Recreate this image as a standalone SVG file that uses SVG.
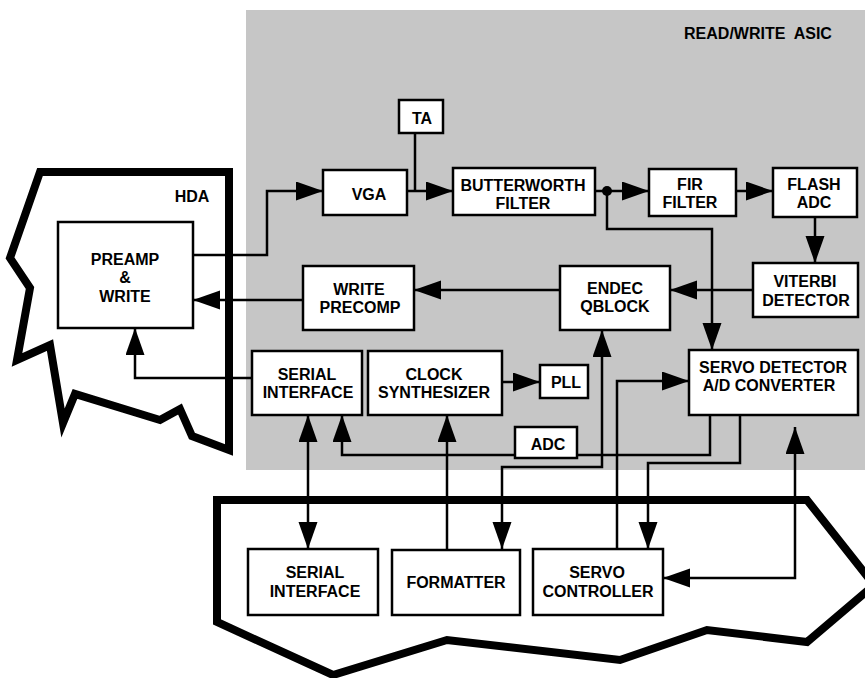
<svg xmlns="http://www.w3.org/2000/svg" width="865" height="678" viewBox="0 0 865 678">
<style>
.box{fill:#fff;stroke:#000;stroke-width:2.5}
.t{font-family:"Liberation Sans",Arial,sans-serif;font-weight:bold;font-size:16px;text-anchor:middle;fill:#000}
.c{fill:none;stroke:#000;stroke-width:2.5}
.outline{fill:#fff;stroke:#000;stroke-width:8;stroke-linejoin:miter}
</style>
<defs>
<marker id="ah" markerUnits="userSpaceOnUse" markerWidth="28" markerHeight="20" refX="27" refY="9.5" orient="auto-start-reverse">
<path d="M0,0 L27,9.5 L0,19 Z" fill="#000"/>
</marker>
</defs>
<rect width="865" height="678" fill="#fff"/>
<g id="asic">
<rect x="246" y="10" width="619" height="460" fill="#c6c6c6"/>
<text class="t" x="758" y="39">READ/WRITE&#160; ASIC</text>
</g>
<g id="hda">
<polygon class="outline" points="40,172 229,172 229,450 192,436 180,409 160,420 75,394 63,423 50,345 17,360 30,288 10,258"/>
<text class="t" x="192" y="202">HDA</text>
</g>
<g id="host">
<polygon class="outline" points="217,500 807,500 874,585 807,642 707,630 620,660 447,640 333,675 217,622"/>
</g>
<g id="connectors">
<path class="c" d="M193,255 H267 V191 H323" marker-end="url(#ah)"/>
<path class="c" d="M415,133 V191"/>
<path class="c" d="M407,191 H453" marker-end="url(#ah)"/>
<path class="c" d="M595,191 H649" marker-end="url(#ah)"/>
<path class="c" d="M736,191 H773" marker-end="url(#ah)"/>
<path class="c" d="M815,217 V263" marker-end="url(#ah)"/>
<path class="c" d="M607,191 V229 H712 V350" marker-end="url(#ah)"/>
<path class="c" d="M753,290 H670" marker-end="url(#ah)"/>
<path class="c" d="M560,290 H414" marker-end="url(#ah)"/>
<path class="c" d="M303,300 H193" marker-end="url(#ah)"/>
<path class="c" d="M252,378 H135 V328" marker-end="url(#ah)"/>
<path class="c" d="M308,415 V549" marker-start="url(#ah)" marker-end="url(#ah)"/>
<path class="c" d="M710,415 V455 H342 V415" marker-end="url(#ah)"/>
<path class="c" d="M602,330 V467 H502 V549" marker-start="url(#ah)" marker-end="url(#ah)"/>
<path class="c" d="M740,415 V463 H648 V549" marker-end="url(#ah)"/>
<path class="c" d="M617,549 V381 H689" marker-end="url(#ah)"/>
<path class="c" d="M447,550 V415" marker-end="url(#ah)"/>
<path class="c" d="M502,382 H540" marker-end="url(#ah)"/>
<path class="c" d="M795,427 V578 H663" marker-start="url(#ah)" marker-end="url(#ah)"/>
<circle cx="607" cy="191" r="5" fill="#000"/>
</g>
<g id="preamp">
<rect class="box" x="58" y="222" width="135" height="106"/>
<text class="t" x="125" y="265">PREAMP</text>
<text class="t" x="125" y="283">&amp;</text>
<text class="t" x="125" y="302">WRITE</text>
</g>
<g id="vga">
<rect class="box" x="323" y="170" width="84" height="45"/>
<text class="t" x="369" y="200">VGA</text>
</g>
<g id="ta">
<rect class="box" x="399" y="100" width="44" height="33"/>
<text class="t" x="422" y="124">TA</text>
</g>
<g id="butterworth">
<rect class="box" x="453" y="168" width="142" height="47"/>
<text class="t" x="523" y="191">BUTTERWORTH</text>
<text class="t" x="523" y="209">FILTER</text>
</g>
<g id="fir">
<rect class="box" x="649" y="169" width="87" height="47"/>
<text class="t" x="690" y="190">FIR</text>
<text class="t" x="690" y="208">FILTER</text>
</g>
<g id="flashadc">
<rect class="box" x="773" y="168" width="84" height="49"/>
<text class="t" x="814" y="190">FLASH</text>
<text class="t" x="814" y="208">ADC</text>
</g>
<g id="viterbi">
<rect class="box" x="753" y="263" width="105" height="54"/>
<text class="t" x="805" y="287">VITERBI</text>
<text class="t" x="806" y="306">DETECTOR</text>
</g>
<g id="endec">
<rect class="box" x="560" y="266" width="110" height="64"/>
<text class="t" x="615" y="294">ENDEC</text>
<text class="t" x="615" y="312">QBLOCK</text>
</g>
<g id="writeprecomp">
<rect class="box" x="303" y="266" width="111" height="64"/>
<text class="t" x="359" y="295">WRITE</text>
<text class="t" x="360" y="313">PRECOMP</text>
</g>
<g id="serialasic">
<rect class="box" x="252" y="351" width="110" height="64"/>
<text class="t" x="307" y="380">SERIAL</text>
<text class="t" x="308" y="398">INTERFACE</text>
</g>
<g id="clocksynth">
<rect class="box" x="368" y="351" width="134" height="64"/>
<text class="t" x="434" y="380">CLOCK</text>
<text class="t" x="434" y="398">SYNTHESIZER</text>
</g>
<g id="pll">
<rect class="box" x="540" y="365" width="48" height="33"/>
<text class="t" x="566" y="388">PLL</text>
</g>
<g id="adc">
<rect class="box" x="515" y="427" width="62" height="31"/>
<text class="t" x="548" y="450">ADC</text>
</g>
<g id="servodetector">
<rect class="box" x="689" y="350" width="169" height="65"/>
<text class="t" x="773" y="373">SERVO DETECTOR</text>
<text class="t" x="769" y="391">A/D CONVERTER</text>
</g>
<g id="serialhost">
<rect class="box" x="248" y="549" width="130" height="66"/>
<text class="t" x="315" y="578">SERIAL</text>
<text class="t" x="315" y="597">INTERFACE</text>
</g>
<g id="formatter">
<rect class="box" x="392" y="550" width="128" height="65"/>
<text class="t" x="456" y="588">FORMATTER</text>
</g>
<g id="servocontroller">
<rect class="box" x="533" y="549" width="130" height="66"/>
<text class="t" x="597" y="578">SERVO</text>
<text class="t" x="598" y="597">CONTROLLER</text>
</g>
</svg>
